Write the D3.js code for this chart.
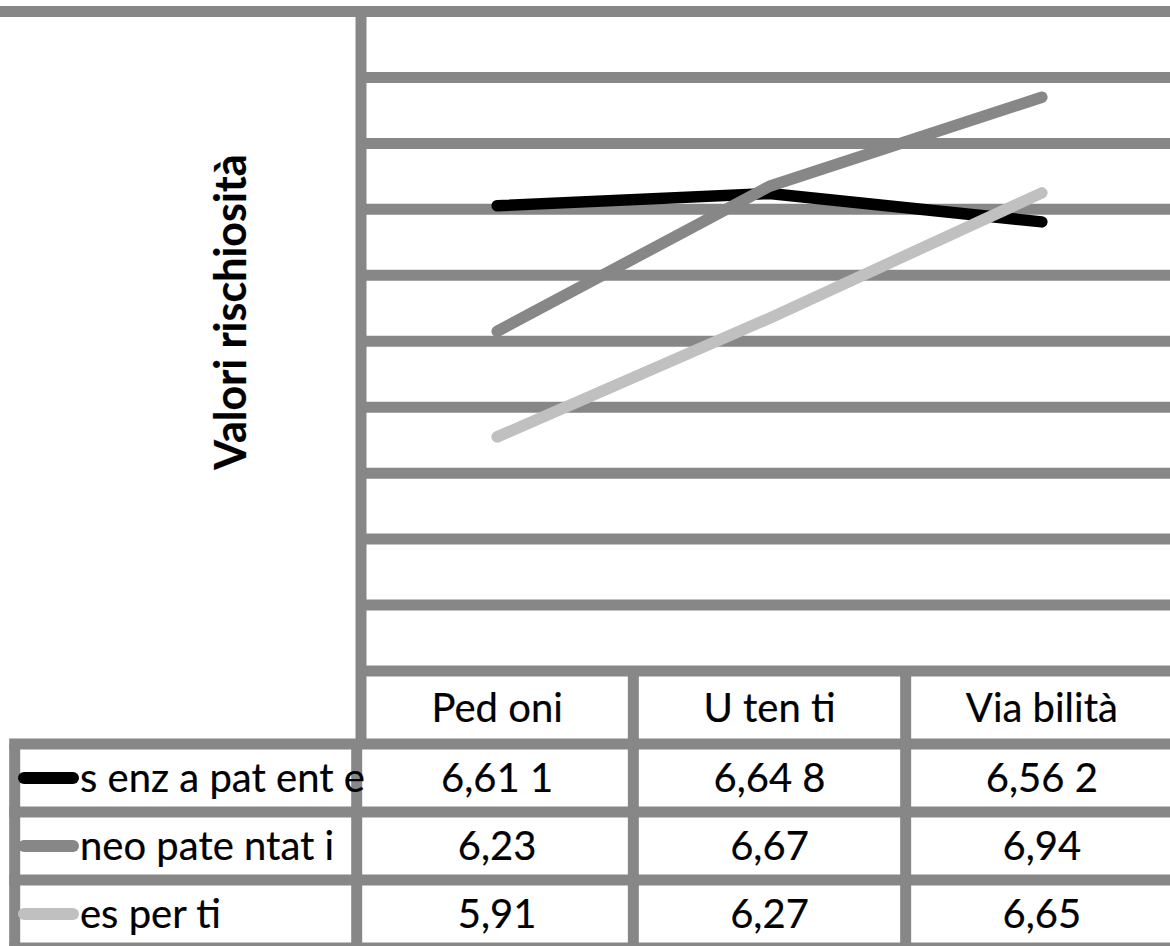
<!DOCTYPE html>
<html>
<head>
<meta charset="utf-8">
<script src="https://cdn.jsdelivr.net/npm/d3@7"></script>
<style>
  html, body { margin: 0; padding: 0; background: #fff; }
  svg { display: block; }
  text { font-family: Lato, "Open Sans", sans-serif; fill: #000; stroke: #000; stroke-width: 0.2px; }
</style>
</head>
<body>
<svg id="chart" width="1170" height="946"></svg>
<script>
// Categories on the x axis (also the header row of the data table)
const categories = ["Ped oni", "U ten ti", "Via bilità"];

// Series names, as shown in the table legend column
const seriesNames = ["s enz a pat ent e", "neo pate ntat i", "es per ti"];

// Series values
const senzaPatente = [6.611, 6.648, 6.562];
const neoPatentati = [6.23, 6.67, 6.94];
const esperti = [5.91, 6.27, 6.65];

// Value labels printed in the data table
const senzaPatenteLabels = ["6,61 1", "6,64 8", "6,56 2"];
const neoPatentatiLabels = ["6,23", "6,67", "6,94"];
const espertiLabels = ["5,91", "6,27", "6,65"];

// Value axis range and gridline step
const yDomain = [5.2, 7.2];
const yStep = 0.2;

const axisTitle = "Valori rischiosità";

const series = [
  { name: seriesNames[0], values: senzaPatente, labels: senzaPatenteLabels, color: "#000000" },
  { name: seriesNames[1], values: neoPatentati, labels: neoPatentatiLabels, color: "#878787" },
  { name: seriesNames[2], values: esperti, labels: espertiLabels, color: "#c0c0c0" }
];

const gridColor = "#878787";
const gridWidth = 11;
const svg = d3.select("#chart");

// Plot frame
const plotLeft = 361, plotRight = 1178, plotTop = 11.5, plotBottom = 671;

const x = d3.scaleBand().domain(categories).range([plotLeft, plotRight]).padding(0);
const y = d3.scaleLinear().domain(yDomain).range([plotBottom, plotTop]);

const gridValues = d3.range(0, Math.round((yDomain[1] - yDomain[0]) / yStep) + 1)
  .map(i => +(yDomain[0] + i * yStep).toFixed(2));

// Horizontal gridlines (the top one runs across the full width)
svg.append("g")
  .selectAll("line")
  .data(gridValues)
  .join("line")
  .attr("x1", d => d === yDomain[1] ? 0 : plotLeft)
  .attr("x2", plotRight)
  .attr("y1", d => y(d))
  .attr("y2", d => y(d))
  .attr("stroke", gridColor)
  .attr("stroke-width", gridWidth);

// Data table geometry
const headerBottom = 744;
const rowHeight = 68;
const tableBottom = headerBottom + rowHeight * series.length;
const legendLeft = 14.7;
const legendSep = 356.7;

const table = svg.append("g");

// Row lines
const rowLines = d3.range(0, series.length + 1).map(i => headerBottom + i * rowHeight);
table.selectAll("line.row")
  .data(rowLines)
  .join("line")
  .attr("class", "row")
  .attr("x1", legendLeft - gridWidth / 2)
  .attr("x2", plotRight)
  .attr("y1", d => d)
  .attr("y2", d => d)
  .attr("stroke", gridColor)
  .attr("stroke-width", gridWidth);

// Plot left edge, down to the bottom of the header row
table.append("line")
  .attr("x1", plotLeft).attr("x2", plotLeft)
  .attr("y1", plotTop - gridWidth / 2).attr("y2", headerBottom)
  .attr("stroke", gridColor).attr("stroke-width", gridWidth);

// Legend column borders
table.append("line")
  .attr("x1", legendSep).attr("x2", legendSep)
  .attr("y1", headerBottom).attr("y2", tableBottom + gridWidth)
  .attr("stroke", gridColor).attr("stroke-width", gridWidth);
table.append("line")
  .attr("x1", legendLeft).attr("x2", legendLeft)
  .attr("y1", headerBottom).attr("y2", tableBottom + gridWidth)
  .attr("stroke", gridColor).attr("stroke-width", gridWidth);

// Column separators between categories
table.selectAll("line.col")
  .data(categories.slice(1))
  .join("line")
  .attr("class", "col")
  .attr("x1", d => x(d)).attr("x2", d => x(d))
  .attr("y1", plotBottom).attr("y2", tableBottom + gridWidth)
  .attr("stroke", gridColor).attr("stroke-width", gridWidth);

const fontSize = 40;

// Header row: category names
table.selectAll("text.cat")
  .data(categories)
  .join("text")
  .attr("class", "cat")
  .attr("x", d => x(d) + x.bandwidth() / 2)
  .attr("y", (plotBottom + headerBottom) / 2)
  .attr("dy", "0.36em")
  .attr("text-anchor", "middle")
  .attr("font-size", fontSize)
  .text(d => d);

// Table rows: legend key, series name, values
const rows = table.selectAll("g.srow")
  .data(series)
  .join("g")
  .attr("class", "srow")
  .attr("transform", (d, i) => `translate(0,${headerBottom + i * rowHeight + rowHeight / 2})`);

rows.append("line")
  .attr("x1", 24).attr("x2", 73)
  .attr("y1", 0).attr("y2", 0)
  .attr("stroke", d => d.color)
  .attr("stroke-width", 12)
  .attr("stroke-linecap", "round");

rows.append("text")
  .attr("x", 80)
  .attr("dy", "0.36em")
  .attr("font-size", fontSize)
  .text(d => d.name);

rows.selectAll("text.val")
  .data(d => d.labels.map((l, j) => ({ label: l, cat: categories[j] })))
  .join("text")
  .attr("class", "val")
  .attr("x", d => x(d.cat) + x.bandwidth() / 2)
  .attr("dy", "0.36em")
  .attr("text-anchor", "middle")
  .attr("font-size", fontSize)
  .text(d => d.label);

// Series lines
const line = d3.line()
  .x((d, i) => x(categories[i]) + x.bandwidth() / 2)
  .y(d => y(d));

svg.append("g")
  .selectAll("path")
  .data(series)
  .join("path")
  .attr("d", d => line(d.values))
  .attr("fill", "none")
  .attr("stroke", d => d.color)
  .attr("stroke-width", 11.5)
  .attr("stroke-linecap", "round")
  .attr("stroke-linejoin", "round");

// Value axis title
svg.append("text")
  .attr("transform", "translate(246,312) rotate(-90)")
  .attr("text-anchor", "middle")
  .attr("font-size", 43)
  .attr("font-weight", "bold")
  .text(axisTitle);
</script>
</body>
</html>
